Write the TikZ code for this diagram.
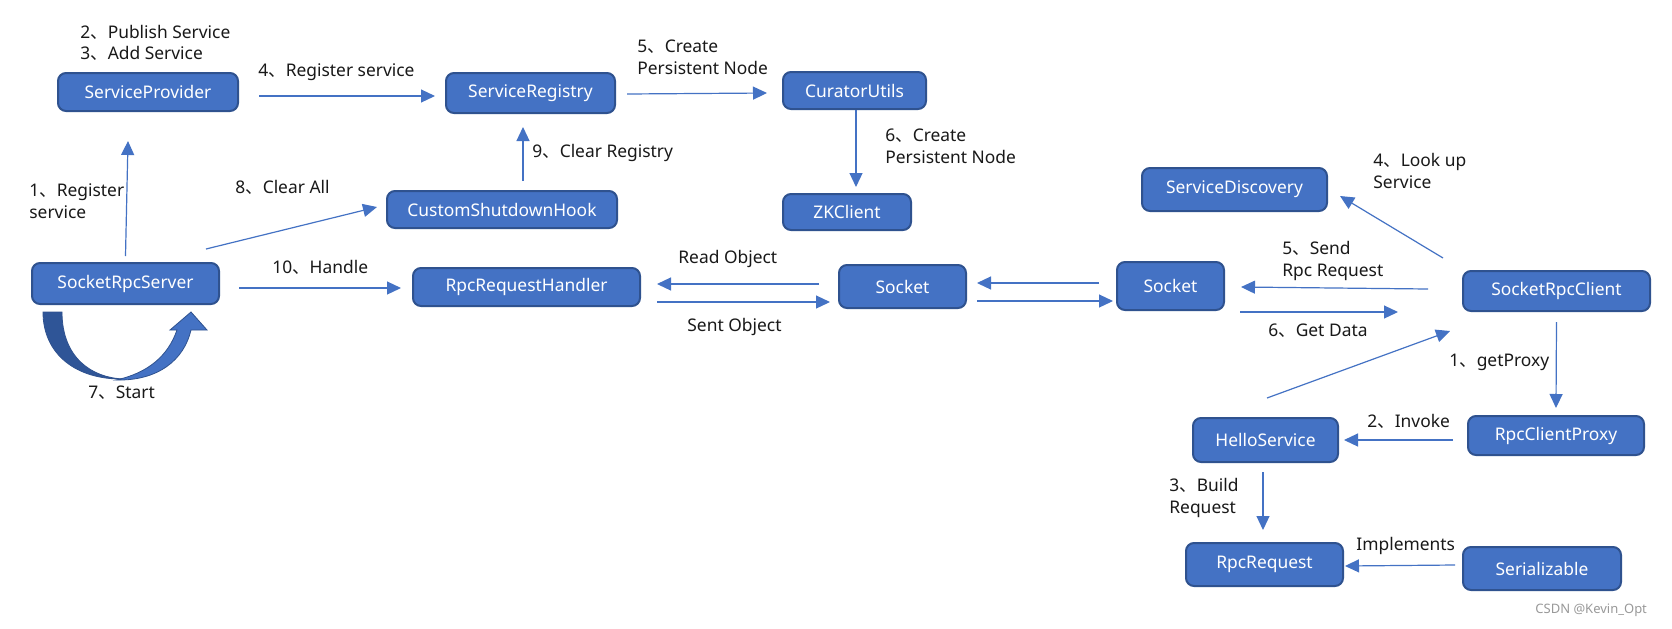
\documentclass[tikz,border=0pt]{standalone}
\usepackage{fontspec}
\setmainfont{Noto Sans}
\newfontfamily\cjk{Noto Sans CJK SC}
\usetikzlibrary{arrows.meta}
\newcommand\dn{{\cjk 、}}
\definecolor{boxblue}{HTML}{4472C4}
\definecolor{boxedge}{HTML}{2F528F}
\definecolor{darkblue}{HTML}{2F5597}
\begin{document}
\begin{tikzpicture}[x=0.5pt,y=-0.5pt,
 box/.style={draw=boxedge, line width=1pt, fill=boxblue, rounded corners=4pt, text=white, font=\fontsize{8.7}{10}\selectfont, inner sep=0pt},
 arr/.style={draw=boxblue, line width=0.6pt, -{Triangle[length=7pt,width=6.5pt]}},
 lbl/.style={anchor=west, inner sep=0pt, align=left, font=\fontsize{8.7}{11}\selectfont, text=black!90}]
\useasboundingbox[fill=white] (0,0) rectangle (1672,628);

% boxes
\node[box, minimum width=90pt, minimum height=19pt] (sp) at (148,92) {ServiceProvider};
\node[box, minimum width=93.5pt, minimum height=20.5pt] (srv) at (125.5,283.5) {SocketRpcServer};
\node[box, minimum width=84.5pt, minimum height=20pt] (reg) at (530.5,93) {ServiceRegistry};
\node[box, minimum width=71.5pt, minimum height=18.5pt] (cur) at (854.5,90.5) {CuratorUtils};
\node[box, minimum width=64pt, minimum height=18pt] (zk) at (847,212) {ZKClient};
\node[box, minimum width=115pt, minimum height=18.5pt] (hook) at (502,209.5) {CustomShutdownHook};
\node[box, minimum width=113.5pt, minimum height=19pt] (rh) at (526.5,287) {RpcRequestHandler};
\node[box, minimum width=63.5pt, minimum height=21.5pt] (s1) at (902.5,286.5) {Socket};
\node[box, minimum width=53.5pt, minimum height=24pt] (s2) at (1170.5,286) {Socket};
\node[box, minimum width=92.5pt, minimum height=21.5pt] (sd) at (1234.5,189.5) {ServiceDiscovery};
\node[box, minimum width=93.5pt, minimum height=20pt] (cli) at (1556.5,291) {SocketRpcClient};
\node[box, minimum width=88pt, minimum height=19.5pt] (proxy) at (1556,435.5) {RpcClientProxy};
\node[box, minimum width=72.5pt, minimum height=22pt] (hello) at (1265.5,440) {HelloService};
\node[box, minimum width=78.5pt, minimum height=21.5pt] (req) at (1264.5,564.5) {RpcRequest};
\node[box, minimum width=79pt, minimum height=21.5pt] (ser) at (1542,568.5) {Serializable};

% connectors
\draw[arr] ([yshift=3pt]srv.north) -- ([xshift=-10pt,yshift=-14.5pt]sp.south);
\draw[arr] ([xshift=10pt,yshift=-2pt]sp.east) -- ([xshift=-5pt,yshift=-1.5pt]reg.west);
\draw[arr] ([xshift=5.5pt,yshift=-0.5pt]reg.east) -- ([xshift=-7.5pt,yshift=-1.25pt]cur.west);
\draw[arr] ([xshift=0.75pt]cur.south) -- ([xshift=4.5pt,yshift=3pt]zk.north);
\draw[arr] ([xshift=10.5pt,yshift=4.5pt]hook.north) -- ([xshift=-3.75pt,yshift=-6.5pt]reg.south);
\draw[arr] ([xshift=-7pt,yshift=6.5pt]srv.north east) -- ([xshift=-4.5pt,yshift=1.25pt]hook.west);
\draw[arr] ([xshift=9.5pt,yshift=-2.25pt]srv.east) -- ([xshift=-5.5pt,yshift=-0.5pt]rh.west);
\draw[arr] ([xshift=-9.5pt,yshift=1.25pt]s1.west) -- ([xshift=8pt,yshift=1.5pt]rh.east);
\draw[arr] ([xshift=8pt,yshift=-7.5pt]rh.east) -- ([xshift=-4pt,yshift=-7.75pt]s1.west);
\draw[arr] ([xshift=-8.5pt,yshift=1.5pt]s2.west) -- ([xshift=5pt,yshift=1.75pt]s1.east);
\draw[arr] ([xshift=5pt,yshift=-7.25pt]s1.east) -- ([xshift=-1.5pt,yshift=-7.5pt]s2.west);
\draw[arr] ([xshift=-17pt,yshift=1pt]cli.west) -- ([xshift=8pt,yshift=-0.5pt]s2.east);
\draw[arr] ([xshift=7.5pt,yshift=-13pt]s2.east) -- ([xshift=-32pt,yshift=-10.5pt]cli.west);
\draw[arr] ([xshift=-9.5pt,yshift=6pt]cli.north west) -- ([xshift=6pt,yshift=8pt]sd.south east);
\draw[arr] ([xshift=0.75pt,yshift=9.5pt]hello.north) -- ([xshift=-6pt,yshift=-9.5pt]cli.south west);
\draw[arr] ([yshift=-5pt]cli.south) -- ([yshift=3.5pt]proxy.north);
\draw[arr] ([xshift=-7pt,yshift=-2.25pt]proxy.west) -- ([xshift=2.5pt]hello.east);
\draw[arr] ([xshift=-1.25pt,yshift=-4.5pt]hello.south) -- ([xshift=-0.75pt,yshift=6pt]req.north);
\draw[arr] ([xshift=-3.5pt,yshift=1.75pt]ser.west) -- ([xshift=0.5pt,yshift=-0.75pt]req.east);

% start curved arrow
\fill[darkblue, draw=boxedge, line width=0.4pt] (43,312) -- (62,312)
  .. controls (62,358) and (92,378) .. (124,379)
  .. controls (76,380) and (43,354) .. (43,312) -- cycle;
\fill[boxblue, draw=boxedge, line width=0.4pt] (116,380)
  .. controls (158,381) and (184,360) .. (191,330)
  -- (207,330) -- (191,312) -- (170,330) -- (177,330)
  .. controls (168,356) and (148,373) .. (116,380) -- cycle;

% labels
\node[lbl] (l2) at (80,32) {2\dn Publish Service};
\node[lbl] (l3) at (80,53) {3\dn Add Service};
\node[lbl] (l4) at (258,72) {4\dn Register service};
\node[lbl] (l1) at (29,201.5) {1\dn Register\\service};
\node[lbl] (l8) at (235,187) {8\dn Clear All};
\node[lbl] (l10) at (272,267) {10\dn Handle};
\node[lbl] (l7) at (88,393) {7\dn Start};
\node[lbl] (l5) at (637,57) {5\dn Create\\Persistent Node};
\node[lbl] (l9) at (532,153) {9\dn Clear Registry};
\node[lbl] (l6) at (885,146) {6\dn Create\\Persistent Node};
\node[lbl] (lr) at (678,259) {Read Object};
\node[lbl] (ls) at (687,327) {Sent Object};
\node[lbl] (lk) at (1373,171) {4\dn Look up\\Service};
\node[lbl] (lsend) at (1282,261) {5\dn Send\\Rpc Request};
\node[lbl] (lg) at (1268,331) {6\dn Get Data};
\node[lbl] (lp) at (1449,362) {1\dn getProxy};
\node[lbl] (li) at (1367,421) {2\dn Invoke};
\node[lbl] (lb) at (1169,497.5) {3\dn Build\\Request};
\node[lbl] (lim) at (1356,546) {Implements};
\node[lbl, font=\fontsize{6.5}{8}\selectfont, text=black!40] (wm) at (1535,610) {CSDN @Kevin\_Opt};
\end{tikzpicture}
\end{document}
